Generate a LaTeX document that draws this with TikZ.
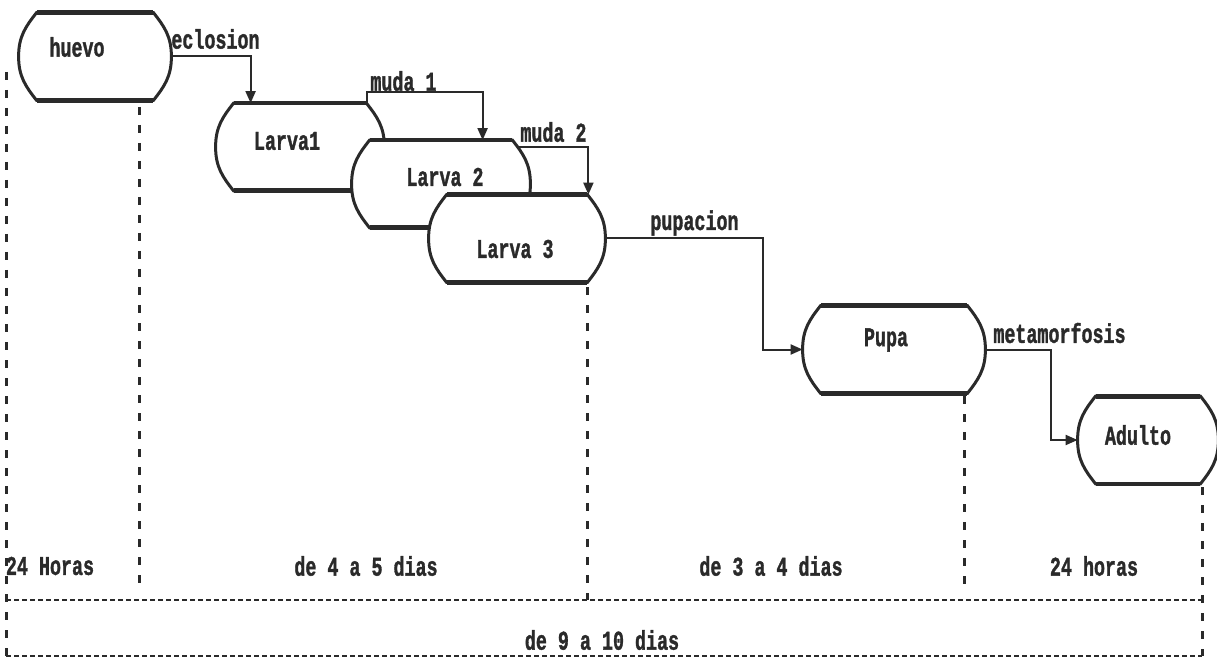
\documentclass[tikz,border=0pt]{standalone}
\usepackage{fontspec}
\usepackage{graphicx}
\newfontfamily\cyclefont{Liberation Mono}[BoldFeatures={FakeBold=1.6}]
\usetikzlibrary{arrows.meta,calc}

\definecolor{ink}{HTML}{2A2A2A}
\newcommand\narrowtxt[1]{\scalebox{0.68}[1]{#1}}

\tikzset{
  stage/.style={rectangle,inner sep=0pt,minimum height=43.5pt},
  stageside/.style={draw=ink,fill=white,line width=1.5pt},
  stageedge/.style={draw=ink,line width=2.4pt},
  stagename/.style={inner sep=0pt,text=ink,font=\cyclefont\bfseries\fontsize{13.5}{14}\selectfont},
  lbl/.style={stagename,anchor=west},
  flow/.style={draw=ink,line width=1pt,-{Triangle[length=6pt,width=5pt]}},
  period/.style={draw=ink,line width=1.5pt,dash pattern=on 4pt off 5pt},
  span/.style={draw=ink,line width=1.4pt,dash pattern=on 2.5pt off 1.5pt}
}

% outline of a stage: flat top and bottom, bulging sides
\newcommand\stageshape[1]{%
  \filldraw[stageside]
    ($(#1.north west)+(18,0)$) -- ($(#1.north east)+(-18,0)$)
    .. controls +(11,14) and +(0,-20) .. (#1.east)
    .. controls +(0,20) and +(11,-14) .. ($(#1.south east)+(-18,0)$)
    -- ($(#1.south west)+(18,0)$)
    .. controls +(-11,-14) and +(0,20) .. (#1.west)
    .. controls +(0,-20) and +(-11,14) .. ($(#1.north west)+(18,0)$) -- cycle;
  \draw[stageedge] ($(#1.north west)+(18,0)$) -- ($(#1.north east)+(-18,0)$)
    ($(#1.south west)+(18,0)$) -- ($(#1.south east)+(-18,0)$);
}

\begin{document}
\begin{tikzpicture}[x=0.5pt,y=-0.5pt]
  \useasboundingbox[fill=white] (0,0) rectangle (1217,658);

  \node[stage,minimum width=76pt] (huevo) at (95,56.5) {};
  \node[stage,minimum width=84pt] (larva1) at (300,147) {};
  \node[stage,minimum width=89pt] (larva2) at (441,184) {};
  \node[stage,minimum width=88pt] (larva3) at (517,238.5) {};
  \node[stage,minimum width=91pt] (pupa) at (894,349.5) {};
  \node[stage,minimum width=70pt] (adulto) at (1148,440) {};

  \foreach \s in {huevo,larva1,larva2,larva3,pupa,adulto}
    \stageshape{\s};

  \node[stagename] (huevo-t) at ($(huevo)+(-18,-9.5)$) {\narrowtxt{huevo}};
  \node[stagename] (larva1-t) at ($(larva1)+(-13,-6)$) {\narrowtxt{Larva1}};
  \node[stagename] (larva2-t) at ($(larva2)+(4,-7)$) {\narrowtxt{Larva 2}};
  \node[stagename] (larva3-t) at ($(larva3)+(-2,10.5)$) {\narrowtxt{Larva 3}};
  \node[stagename] (pupa-t) at ($(pupa)+(-8,-9.5)$) {\narrowtxt{Pupa}};
  \node[stagename] (adulto-t) at ($(adulto)+(-10,-5)$) {\narrowtxt{Adulto}};

  % transitions
  \draw[flow] (huevo.east) -| ($(larva1.north west)+(35,0)$);
  \draw[flow] ($(larva1.north east)+(-17,0)$) -- ++(0,-11) -| ($(larva2.north west)+(131,0)$);
  \draw[flow] ($(larva2.north east)+(-12,7)$) -| ($(larva3.north east)+(-17,0)$);
  \draw[flow] (larva3.east) -- ++(158,0) |- (pupa.west);
  \draw[flow] (pupa.east) -- ++(66,0) |- (adulto.west);

  \node[lbl] (eclosion) at (171,39) {\narrowtxt{eclosion}};
  \node[lbl] (muda1) at (370,81) {\narrowtxt{muda 1}};
  \node[lbl] (muda2) at (520,132) {\narrowtxt{muda 2}};
  \node[lbl] (pupacion) at (650,223) {\narrowtxt{pupacion}};
  \node[lbl] (metamorfosis) at (993,333) {\narrowtxt{metamorfosis}};

  % time scale
  \draw[period] (6,72) -- (6,656);
  \draw[period] (139,107) -- (139,588);
  \draw[period] (587,287) -- (587,600);
  \draw[period] (964,396) -- (964,588);
  \draw[period] (1202,487) -- (1202,656);
  \draw[span] (6,600) -- (1202,600);
  \draw[span] (6,656) -- (1202,656);

  \node[stagename] (t-huevo) at (50,566) {\narrowtxt{24 Horas}};
  \node[stagename] (t-larva) at (366,566) {\narrowtxt{de 4 a 5 dias}};
  \node[stagename] (t-pupa) at (771,566) {\narrowtxt{de 3 a 4 dias}};
  \node[stagename] (t-adulto) at (1094,566) {\narrowtxt{24 horas}};
  \node[stagename] (t-total) at (602,640) {\narrowtxt{de 9 a 10 dias}};
\end{tikzpicture}
\end{document}
